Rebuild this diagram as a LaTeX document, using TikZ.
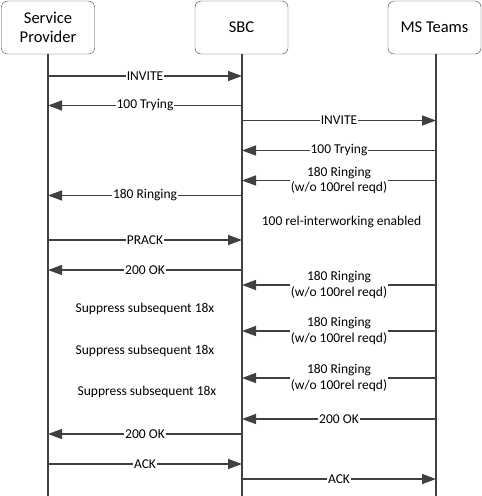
\documentclass[tikz,border=0pt]{standalone}
\usepackage{fontspec}
\setmainfont{Carlito}
\usetikzlibrary{arrows.meta}
\definecolor{linegray}{HTML}{404040}

\begin{document}
\begin{tikzpicture}[x=1pt, y=-1pt,
    party/.style={draw=linegray, rounded corners=6pt, minimum width=93pt,
      minimum height=53pt, align=center, font=\fontsize{16.5}{19}\selectfont},
    life/.style={draw=linegray, line width=1.5pt},
    msg/.style={draw=linegray, line width=1.5pt,
      -{Triangle[length=14pt, width=10pt]}},
    lbl/.style={fill=white, inner xsep=1pt, inner ysep=0.5pt, align=center,
      font=\fontsize{13.5}{15.5}\selectfont},
    note/.style={align=center, font=\fontsize{13.5}{15.5}\selectfont}]
      \useasboundingbox (0,0) rectangle (482,496);
      % parties
      \node[party] (sp) at (48,27.5) {Service\\Provider};
      \node[party] (sbc) at (241.5,27.5) {SBC};
      \node[party] (ms) at (434.5,27.5) {MS Teams};
      % lifelines
      \coordinate (spend) at (48,496);
      \coordinate (sbcend) at (242,496);
      \coordinate (msend) at (436,496);
      \draw[life] (sp.south -| spend) -- (spend);
      \draw[life] (sbc.south -| sbcend) -- (sbcend);
      \draw[life] (ms.south -| msend) -- (msend);
      % rows of the call flow
      \coordinate (r1) at (0,76);
      \coordinate (r2) at (0,105.5);
      \coordinate (r3) at (0,120.5);
      \coordinate (r4) at (0,150.5);
      \coordinate (r5) at (0,180.5);
      \coordinate (r6) at (0,195.5);
      \coordinate (r7) at (0,240);
      \coordinate (r8) at (0,270);
      \coordinate (r9) at (0,285);
      \coordinate (r10) at (0,331);
      \coordinate (r11) at (0,378);
      \coordinate (r12) at (0,419);
      \coordinate (r13) at (0,434);
      \coordinate (r14) at (0,464);
      \coordinate (r15) at (0,479);
      % messages
      \draw[msg] (spend |- r1) -- node[lbl] {INVITE} (sbcend |- r1);
      \draw[msg] (sbcend |- r2) -- node[lbl] {100 Trying} (spend |- r2);
      \draw[msg] (sbcend |- r3) -- node[lbl] {INVITE} (msend |- r3);
      \draw[msg] (msend |- r4) -- node[lbl] {100 Trying} (sbcend |- r4);
      \draw[msg] (msend |- r5) -- node[lbl] {180 Ringing\\(w/o 100rel reqd)} (sbcend |- r5);
      \draw[msg] (sbcend |- r6) -- node[lbl] {180 Ringing} (spend |- r6);
      \draw[msg] (spend |- r7) -- node[lbl] {PRACK} (sbcend |- r7);
      \draw[msg] (sbcend |- r8) -- node[lbl] {200 OK} (spend |- r8);
      \draw[msg] (msend |- r9) -- node[lbl] {180 Ringing\\(w/o 100rel reqd)} (sbcend |- r9);
      \draw[msg] (msend |- r10) -- node[lbl] {180 Ringing\\(w/o 100rel reqd)} (sbcend |- r10);
      \draw[msg] (msend |- r11) -- node[lbl] {180 Ringing\\(w/o 100rel reqd)} (sbcend |- r11);
      \draw[msg] (msend |- r12) -- node[lbl] {200 OK} (sbcend |- r12);
      \draw[msg] (sbcend |- r13) -- node[lbl] {200 OK} (spend |- r13);
      \draw[msg] (spend |- r14) -- node[lbl] {ACK} (sbcend |- r14);
      \draw[msg] (sbcend |- r15) -- node[lbl] {ACK} (msend |- r15);
      % notes
      \node[note] (interwork) at (341.5,221.5) {100 rel-interworking enabled};
      \node[note] (supp1) at (145,309) {Suppress subsequent 18x};
      \node[note] (supp2) at (145,351) {Suppress subsequent 18x};
      \node[note] (supp3) at (147,391.5) {Suppress subsequent 18x};
    \end{tikzpicture}
\end{document}
